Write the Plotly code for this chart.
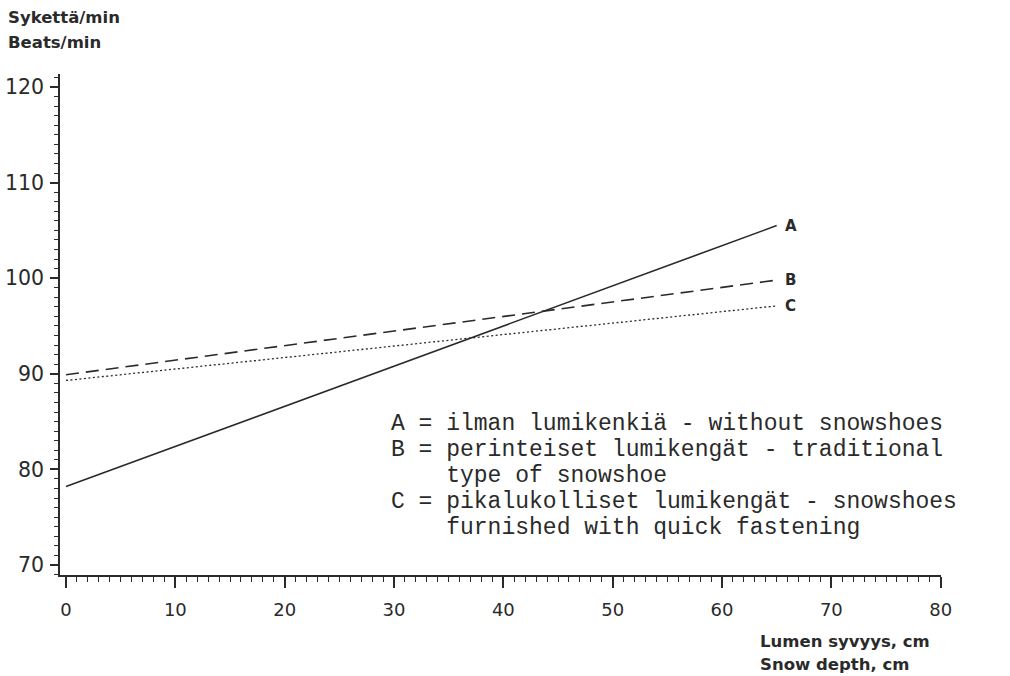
import plotly.graph_objects as go

# Heart rate vs. snow depth, fitted lines for three conditions
depth = [0, 65]
rate_a = [78.2, 105.5]   # ilman lumikenkiä
rate_b = [89.9, 99.8]    # perinteiset lumikengät
rate_c = [89.3, 97.1]    # pikalukolliset lumikengät
series_names = ["A", "B", "C"]

x_ticks = [0, 10, 20, 30, 40, 50, 60, 70, 80]
y_ticks = [70, 80, 90, 100, 110, 120]

legend_lines = [
    "A = ilman lumikenkiä - without snowshoes",
    "B = perinteiset lumikengät - traditional",
    "    type of snowshoe",
    "C = pikalukolliset lumikengät - snowshoes",
    "    furnished with quick fastening",
]

INK = "#2a2a2a"
W, H = 1010, 676
L, R, T, B = 60, 941, 74, 575


def px(xp):
    return (xp - L) / (R - L)


def py(yp):
    return (B - yp) / (B - T)


fig = go.Figure()
styles = [
    dict(dash="solid", width=1.6),
    dict(dash="13px,7px", width=1.6),
    dict(dash="2px,2.5px", width=1.3),
]
for name, vals, st in zip(series_names, [rate_a, rate_b, rate_c], styles):
    fig.add_trace(go.Scatter(
        x=depth, y=vals, mode="lines", name=name,
        line=dict(color=INK, width=st["width"], dash=st["dash"]),
        showlegend=False, hoverinfo="skip",
    ))
    fig.add_annotation(
        x=depth[-1], y=vals[-1], xref="x", yref="y",
        text=f"<b>{name}</b>", showarrow=False,
        xanchor="left", yanchor="middle", xshift=6,
        font=dict(family="DejaVu Sans", size=15, color=INK),
    )

fig.update_xaxes(
    range=[-0.55, 80.03], tickvals=x_ticks, automargin=False,
    showline=True, linecolor=INK, linewidth=1.6,
    ticks="outside", ticklen=11, tickwidth=1.5, tickcolor=INK,
    minor=dict(dtick=1, ticks="outside", ticklen=5, tickwidth=1.2, tickcolor=INK),
    showgrid=False, zeroline=False,
    tickfont=dict(family="DejaVu Sans", size=18, color=INK),
    ticklabelstandoff=7,
)
fig.update_yaxes(
    range=[68.95, 121.36], tickvals=y_ticks, automargin=False,
    showline=True, linecolor=INK, linewidth=1.6,
    ticks="outside", ticklen=8, tickwidth=1.5, tickcolor=INK,
    minor=dict(dtick=1, ticks="outside", ticklen=4, tickwidth=1.2, tickcolor=INK),
    showgrid=False, zeroline=False,
    tickfont=dict(family="DejaVu Sans", size=20.5, color=INK),
    ticklabelstandoff=2,
)

# axis titles
for text, yp in [("Sykettä/min", 17), ("Beats/min", 43)]:
    fig.add_annotation(
        x=px(6), y=py(yp), xref="paper", yref="paper", text=f"<b>{text}</b>",
        showarrow=False, xanchor="left", yanchor="middle",
        font=dict(family="DejaVu Sans", size=16.5, color=INK),
    )
for text, yp in [("Lumen syvyys, cm", 653), ("Snow depth, cm", 676)]:
    fig.add_annotation(
        x=px(758), y=py(yp), xref="paper", yref="paper", text=f"<b>{text}</b>",
        showarrow=False, xanchor="left", yanchor="bottom",
        font=dict(family="DejaVu Sans", size=16.5, color=INK),
    )

# key to the curves
for i, line in enumerate(legend_lines):
    fig.add_annotation(
        x=px(389), y=py(424 + 26 * i), xref="paper", yref="paper",
        text=line.replace(" ", "&nbsp;"), showarrow=False,
        xanchor="left", yanchor="middle",
        font=dict(family="Liberation Mono", size=23, color=INK),
    )

fig.update_layout(
    width=W, height=H,
    margin=dict(l=L, r=W - R, t=T, b=H - B),
    plot_bgcolor="white", paper_bgcolor="white",
)

fig.write_html("out.html")
